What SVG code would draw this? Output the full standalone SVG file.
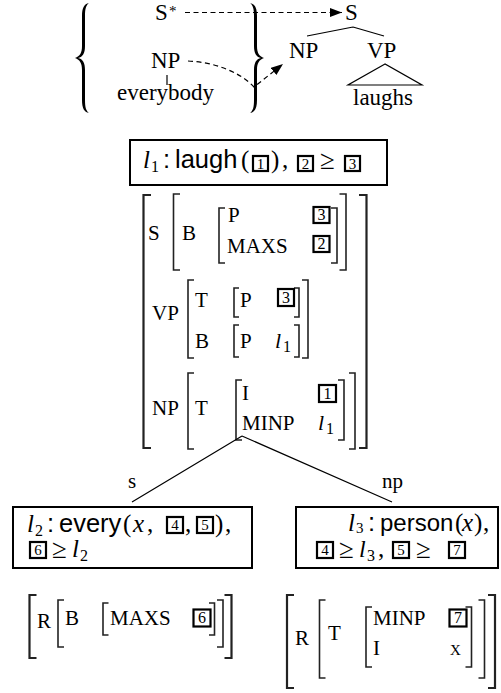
<svg xmlns="http://www.w3.org/2000/svg" width="501" height="693" viewBox="0 0 501 693">
  <defs>
    <style>
      text { fill: #000; }
      .rm { font-family: "Liberation Serif", "Times New Roman", serif; font-size: 21px; }
      .tr { font-family: "Liberation Serif", "Times New Roman", serif; font-size: 23px; }
      .sf { font-family: "Liberation Sans", Arial, sans-serif; font-size: 25.5px; }
      .it { font-family: "Liberation Serif", "Times New Roman", serif; font-style: italic; font-size: 25px; }
      .sub { font-family: "Liberation Serif", "Times New Roman", serif; font-size: 16px; }
      .pr { font-family: "Liberation Serif", "Times New Roman", serif; font-size: 25px; }
      .geq { font-family: "Liberation Serif", "Times New Roman", serif; font-size: 27px; }
      .num { font-family: "Liberation Serif", "Times New Roman", serif; font-size: 15px; text-anchor: middle; }
      .tag { fill: none; stroke: #000; stroke-width: 2.2; }
      .frame { fill: none; stroke: #000; stroke-width: 2; }
      .brk { fill: none; stroke: #222; stroke-width: 1.6; }
      .obrk { fill: none; stroke: #222; stroke-width: 2.2; }
      .line { fill: none; stroke: #000; stroke-width: 1.2; }
      .dash { fill: none; stroke: #000; stroke-width: 1.2; stroke-dasharray: 5 3.5; }
      .brace { fill: #000; stroke: none; }
    </style>
    <marker id="head" viewBox="0 0 12 9" refX="12" refY="4.5" markerWidth="12" markerHeight="9" markerUnits="userSpaceOnUse" orient="auto">
      <path d="M0,0 L12,4.5 L0,9 Z" fill="#000"/>
    </marker>
  </defs>

  <!-- set of elementary trees in braces -->
  <g id="elementary-set">
    <path class="brace" d="M89,3 C84,4 82,8 82,16 L82,46 C82,53 80,56 75,58 C80,60 82,63 82,70 L82,100 C82,108 84,112 89,113 C86,111 85,107 85,100 L85,70 C85,63 83,59 78,58 C83,57 85,53 85,46 L85,16 C85,9 86,5 89,3 Z"/>
    <path class="brace" d="M250,3 C255,4 257,8 257,16 L257,46 C257,53 259,56 264,58 C259,60 257,63 257,70 L257,100 C257,108 255,112 250,113 C253,111 254,107 254,100 L254,70 C254,63 256,59 261,58 C256,57 254,53 254,46 L254,16 C254,9 253,5 250,3 Z"/>
    <g id="aux-tree">
      <text class="tr" x="155" y="20">S</text>
      <text class="rm" x="169" y="16" style="font-size:15px">*</text>
    </g>
    <g id="np-tree">
      <text class="tr" x="151" y="68">NP</text>
      <path class="line" d="M167,75 V85"/>
      <text class="tr" x="117" y="100">everybody</text>
    </g>
  </g>

  <!-- derived tree -->
  <g id="derived-tree">
    <text class="tr" x="345" y="20">S</text>
    <path class="line" d="M353,27 L307,36 M353,27 L384,36"/>
    <text class="tr" x="289" y="58">NP</text>
    <text class="tr" x="367" y="58">VP</text>
    <path class="line" d="M385,64 L348,85 L422,85 Z"/>
    <text class="tr" x="353" y="105">laughs</text>
  </g>

  <!-- semantic representation of laughs -->
  <g id="sem-laughs">
    <rect class="frame" x="130" y="140" width="257" height="45"/>
    <text class="it" x="143" y="168">l</text>
    <text class="sub" x="151" y="172">1</text>
    <text class="sf" x="163" y="168">:</text>
    <text class="sf" x="175" y="168">laugh</text>
    <text class="pr" x="241" y="168">(</text>
    <rect class="tag" x="253" y="156" width="15" height="15"/>
    <text class="num" x="260.5" y="168.5">1</text>
    <text class="pr" x="271" y="168">)</text>
    <text class="pr" x="282" y="168">,</text>
    <rect class="tag" x="298" y="156" width="15" height="15"/>
    <text class="num" x="305.5" y="168.5">2</text>
    <text class="geq" x="320" y="169">≥</text>
    <rect class="tag" x="345" y="156" width="15" height="15"/>
    <text class="num" x="352.5" y="168.5">3</text>
  </g>

  <!-- feature structure of laughs -->
  <g id="avm-laughs">
    <path class="obrk" d="M151,195 H143.5 V448 H151 M359,195 H366.5 V448 H359"/>
    <text class="rm" x="148" y="240">S</text>
    <path class="brk" d="M180,194 H173.5 V270 H180 M339.5,194 H346 V270 H339.5"/>
    <text class="rm" x="182" y="240">B</text>
    <path class="brk" d="M225,208 H219 V263 H225 M331,208 H337 V263 H331"/>
    <text class="rm" x="228" y="222">P</text>
    <rect class="tag" x="313.5" y="207" width="16" height="16"/>
    <text class="num" x="321.5" y="220" style="font-size:16px">3</text>
    <text class="rm" x="227" y="253">MAXS</text>
    <rect class="tag" x="313.5" y="236" width="16" height="16"/>
    <text class="num" x="321.5" y="249" style="font-size:16px">2</text>

    <text class="rm" x="152" y="320">VP</text>
    <path class="brk" d="M194,280 H188 V358 H194 M302,280 H308 V358 H302"/>
    <text class="rm" x="195" y="307">T</text>
    <path class="brk" d="M239,288 H234 V317 H239 M294,288 H299 V317 H294"/>
    <text class="rm" x="240" y="307">P</text>
    <rect class="tag" x="278" y="289" width="16" height="17"/>
    <text class="num" x="286" y="302.5" style="font-size:16px">3</text>
    <text class="rm" x="195" y="348">B</text>
    <path class="brk" d="M239,325 H234 V357 H239 M294,325 H299 V357 H294"/>
    <text class="rm" x="240" y="348">P</text>
    <text class="it" x="275" y="348" style="font-size:22px">l</text>
    <text class="sub" x="283" y="352">1</text>

    <text class="rm" x="152" y="415">NP</text>
    <path class="brk" d="M194,373 H188 V449 H194 M349,373 H355 V449 H349"/>
    <text class="rm" x="195" y="415">T</text>
    <path class="brk" d="M242,380 H236 V440 H242 M338,380 H344 V440 H338"/>
    <text class="rm" x="242" y="400">I</text>
    <rect class="tag" x="319" y="385" width="17" height="17"/>
    <text class="num" x="327.5" y="398.5" style="font-size:16px">1</text>
    <text class="rm" x="242" y="430">MINP</text>
    <text class="it" x="318" y="430" style="font-size:22px">l</text>
    <text class="sub" x="326" y="434">1</text>
  </g>

  <!-- semantic representation of everybody, scope part -->
  <g id="sem-every">
    <rect class="frame" x="13" y="507" width="239" height="61"/>
    <text class="it" x="27" y="532">l</text>
    <text class="sub" x="35" y="536">2</text>
    <text class="sf" x="47" y="532">:</text>
    <text class="sf" x="59" y="532">every</text>
    <text class="pr" x="123" y="532">(</text>
    <text class="it" x="133" y="532">x</text>
    <text class="pr" x="147" y="532">,</text>
    <rect class="tag" x="167" y="517" width="16" height="16"/>
    <text class="num" x="175" y="530">4</text>
    <text class="pr" x="185" y="532">,</text>
    <rect class="tag" x="197" y="517" width="16" height="16"/>
    <text class="num" x="205" y="530">5</text>
    <text class="pr" x="215" y="532">)</text>
    <text class="pr" x="225" y="532">,</text>
    <rect class="tag" x="30" y="542" width="16" height="16"/>
    <text class="num" x="38" y="555">6</text>
    <text class="geq" x="52" y="558">≥</text>
    <text class="it" x="72" y="557">l</text>
    <text class="sub" x="80" y="561">2</text>
  </g>

  <g id="avm-every">
    <path class="obrk" d="M36.5,595 H29.5 V658 H36.5 M224.5,595 H231.5 V658 H224.5"/>
    <text class="rm" x="37" y="628">R</text>
    <path class="brk" d="M64,600 H58 V647 H64 M217,600 H223 V647 H217"/>
    <text class="rm" x="65" y="625">B</text>
    <path class="brk" d="M108.5,603 H103 V635 H108.5 M209,603 H214.5 V635 H209"/>
    <text class="rm" x="110" y="625">MAXS</text>
    <rect class="tag" x="193.5" y="609.5" width="17" height="17"/>
    <text class="num" x="202" y="623" style="font-size:16px">6</text>
  </g>

  <!-- semantic representation of everybody, restriction part -->
  <g id="sem-person">
    <rect class="frame" x="296" y="507" width="202" height="61"/>
    <text class="it" x="348" y="531">l</text>
    <text class="sub" x="356" y="532.5" style="font-size:15px">3</text>
    <text class="sf" x="368" y="531">:</text>
    <text class="sf" x="380" y="531" style="font-size:24px">person</text>
    <text class="pr" x="455" y="531">(</text>
    <text class="it" x="462" y="531">x</text>
    <text class="pr" x="474" y="531">)</text>
    <text class="pr" x="483" y="531">,</text>
    <rect class="tag" x="317" y="542" width="16" height="16"/>
    <text class="num" x="325" y="555">4</text>
    <text class="geq" x="339" y="558">≥</text>
    <text class="it" x="359" y="557" style="font-size:24px">l</text>
    <text class="sub" x="367" y="561">3</text>
    <text class="pr" x="378" y="557">,</text>
    <rect class="tag" x="393" y="542" width="16" height="16"/>
    <text class="num" x="401" y="555">5</text>
    <text class="geq" x="416" y="558">≥</text>
    <rect class="tag" x="449" y="542" width="16" height="16"/>
    <text class="num" x="457" y="555">7</text>
  </g>

  <g id="avm-person">
    <path class="obrk" d="M294,595 H287 V688 H294 M488,595 H495 V688 H488"/>
    <text class="rm" x="295" y="645">R</text>
    <path class="brk" d="M325.5,600 H319.5 V678 H325.5 M478.5,600 H484.5 V678 H478.5"/>
    <text class="rm" x="328" y="640">T</text>
    <path class="brk" d="M372,607 H366 V667 H372 M465.5,607 H471.5 V667 H465.5"/>
    <text class="rm" x="373" y="625">MINP</text>
    <rect class="tag" x="449.5" y="609.5" width="17" height="17"/>
    <text class="num" x="458" y="623" style="font-size:16px">7</text>
    <text class="rm" x="373" y="655">I</text>
    <text class="rm" x="450" y="655" style="font-variant:small-caps">x</text>
  </g>

  <!-- connectors -->
  <g id="connectors">
    <path class="dash" d="M185,12.5 H342" marker-end="url(#head)"/>
    <path class="dash" d="M188,61 C214,62 240,72 254,87 L283,64" marker-end="url(#head)"/>
    <path class="line" d="M242,436 L132,502 M242,436 L392,502"/>
    <text class="rm" x="128" y="488">s</text>
    <text class="rm" x="382" y="488">np</text>
  </g>
</svg>
